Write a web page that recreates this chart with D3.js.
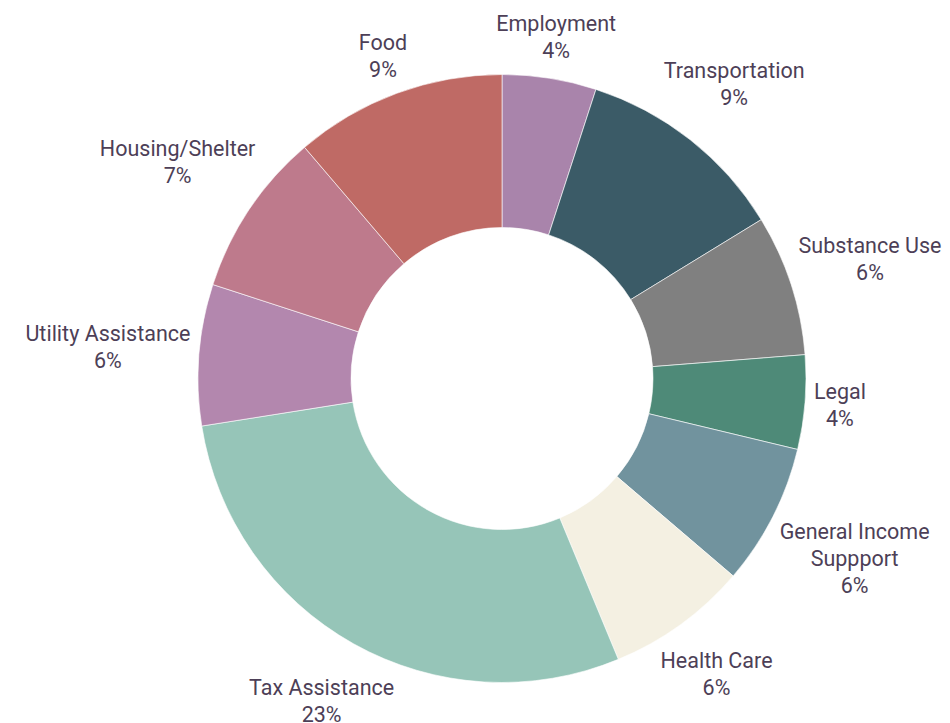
<!DOCTYPE html>
<html>
<head>
<meta charset="utf-8">
<script src="https://cdn.jsdelivr.net/npm/d3@7"></script>
<style>
  html, body { margin: 0; padding: 0; background: #ffffff; }
  svg { display: block; }
  text { font-family: "Roboto", "Liberation Sans", sans-serif; font-weight: 400; }
</style>
</head>
<body>
<div id="chart"></div>
<script>
// ---- data ----
const categories = ["Employment", "Transportation", "Substance Use", "Legal", "General Income\nSuppport", "Health Care", "Tax Assistance", "Utility Assistance", "Housing/Shelter", "Food"];
const values = [4, 9, 6, 4, 6, 6, 23, 6, 7, 9];
const percentLabels = ["4%", "9%", "6%", "4%", "6%", "6%", "23%", "6%", "7%", "9%"];
const colors = ["#a984ab", "#3b5b67", "#808080", "#4e8a78", "#71939e", "#f4f0e2", "#96c5b8", "#b387ae", "#be7a8c", "#bf6a65"];

// ---- layout ----
const W = 950, H = 723;
const cx = 502, cy = 378.5;
const outerR = 304, innerR = 151;
const labelR = 311;
const fontSize = 21.5, lineH = 27;

const svg = d3.select("#chart").append("svg").attr("width", W).attr("height", H);
const g = svg.append("g").attr("transform", `translate(${cx},${cy})`);

const pie = d3.pie().sort(null).value(d => d.value);
const data = categories.map((c, i) => ({ name: c, value: values[i], pct: percentLabels[i], color: colors[i] }));
const arcs = pie(data);
const arc = d3.arc().innerRadius(innerR).outerRadius(outerR);

g.selectAll("path.slice").data(arcs).enter().append("path")
  .attr("class", "slice")
  .attr("d", arc)
  .attr("fill", d => d.data.color)
  .attr("stroke", "#ffffff")
  .attr("stroke-width", 0.6);

const labels = g.selectAll("text.lbl").data(arcs).enter().append("text")
  .attr("class", "lbl")
  .attr("text-anchor", "middle")
  .attr("font-size", fontSize)
  .attr("fill", "#4d3f57");

labels.each(function (d) {
  const t = d3.select(this);
  const lines = d.data.name.split("\n").concat([d.data.pct]);
  lines.forEach((ln, i) => {
    t.append("tspan").attr("x", 0).attr("y", i * lineH).text(ln);
  });
  const bb = this.getBBox();
  const a = (d.startAngle + d.endAngle) / 2;
  const ux = Math.sin(a), uy = -Math.cos(a);
  const ext = (bb.width / 2) * Math.abs(ux) + (bb.height / 2) * Math.abs(uy);
  const dist = labelR + ext;
  const bx = dist * ux, by = dist * uy;
  const ccx = bb.x + bb.width / 2, ccy = bb.y + bb.height / 2;
  t.attr("transform", `translate(${bx - ccx},${by - ccy})`);
});
</script>
</body>
</html>
